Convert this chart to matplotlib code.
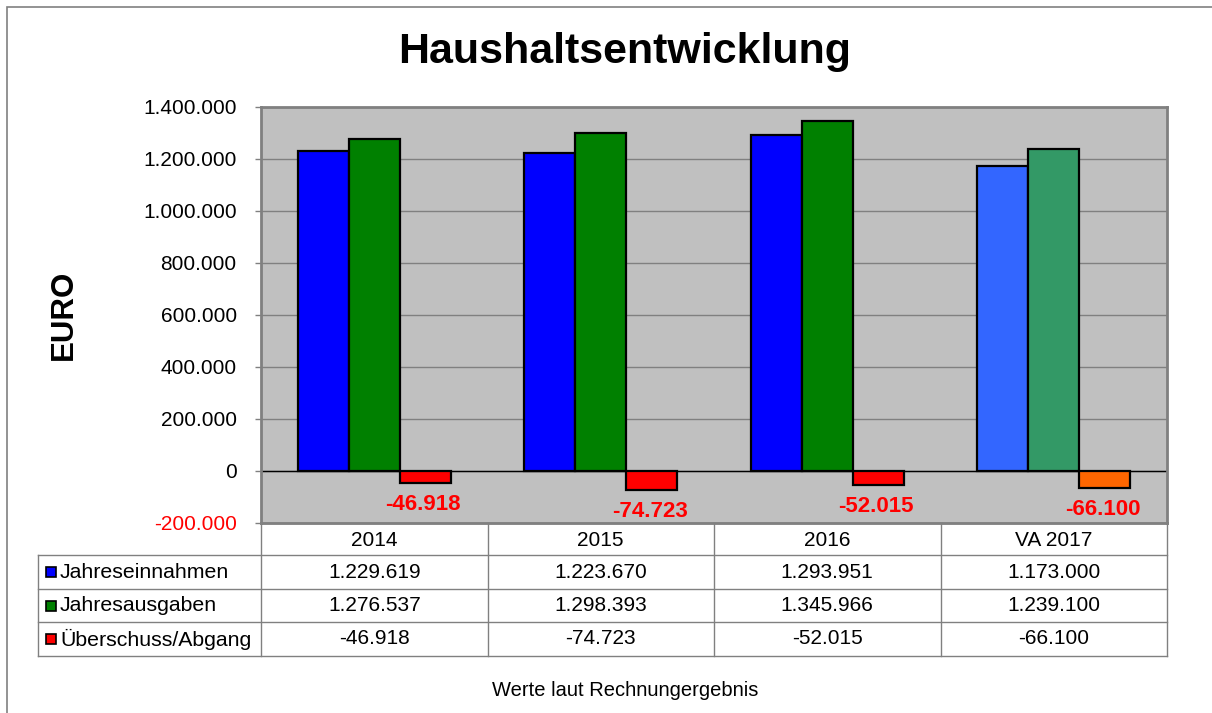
import matplotlib.pyplot as plt
from matplotlib.patches import Rectangle
from matplotlib.lines import Line2D
import numpy as np

plt.rcParams['font.family'] = ['Liberation Sans', 'DejaVu Sans']

# data
categories = ['2014', '2015', '2016', 'VA 2017']
einnahmen = [1229619, 1223670, 1293951, 1173000]
ausgaben = [1276537, 1298393, 1345966, 1239100]
saldo = [-46918, -74723, -52015, -66100]
series_names = ['Jahreseinnahmen', 'Jahresausgaben', 'Überschuss/Abgang']
ytick_vals = [-200000, 0, 200000, 400000, 600000, 800000, 1000000, 1200000, 1400000]

colors_ein = ['#0000FF', '#0000FF', '#0000FF', '#3366FF']
colors_aus = ['#008000', '#008000', '#008000', '#339966']
colors_sal = ['#FF0000', '#FF0000', '#FF0000', '#FF6600']

W, H = 1212, 713


def fx(x):
    return x / W


def fy(y):
    return 1 - y / H


def fmt(v):
    s = f'{abs(v):,}'.replace(',', '.')
    return ('-' if v < 0 else '') + s


fig = plt.figure(figsize=(W / 100, H / 100), dpi=100)

# outer chart frame
fig.patches.append(Rectangle((fx(7), fy(800)), fx(1300), fy(7) - fy(800),
                             transform=fig.transFigure, fill=False,
                             edgecolor='#808080', linewidth=1.2))

L, R, T, B = 261, 1167, 107, 523
ax = fig.add_axes([fx(L), fy(B), fx(R) - fx(L), fy(T) - fy(B)])
ax.set_facecolor('#C0C0C0')

x = np.arange(len(categories))
w = 0.225
ax.bar(x - w, einnahmen, w, color=colors_ein, edgecolor='black', linewidth=1.6, zorder=3)
ax.bar(x, ausgaben, w, color=colors_aus, edgecolor='black', linewidth=1.6, zorder=3)
bars = ax.bar(x + w, saldo, w, color=colors_sal, edgecolor='black', linewidth=1.6, zorder=3)

for b, v in zip(bars, saldo):
    ax.annotate(fmt(v), (b.get_x() + b.get_width() / 2, v), xytext=(-2, -11),
                textcoords='offset pixels', ha='center', va='top',
                color='#FF0000', fontsize=16, fontweight='bold', zorder=4)

ax.set_xlim(-0.5, len(categories) - 0.5)
ax.set_ylim(-200000, 1400000)
ax.set_yticks(ytick_vals)
ax.set_yticklabels([fmt(v) for v in ytick_vals], fontsize=15)
ax.get_yticklabels()[0].set_color('#FF0000')
ax.set_xticks([])
ax.tick_params(axis='y', length=4.5, width=1, color='#808080', pad=13)
ax.yaxis.grid(True, color='#808080', linewidth=1, zorder=1)
ax.axhline(0, color='black', linewidth=1, zorder=2)
for s in ax.spines.values():
    s.set_color('#808080')
    s.set_linewidth(2)

ax.set_ylabel('EURO', fontsize=22.5, fontweight='bold', labelpad=46)

fig.text(fx(625), fy(52), 'Haushaltsentwicklung', ha='center', va='center',
         fontsize=31, fontweight='bold')

# data table below the plot
row_edges = [B, 555, 589, 622, 656]
col_w = (R - L) / len(categories)
tl = dict(color='#808080', linewidth=1, transform=fig.transFigure)
for i, y in enumerate(row_edges):
    x0 = L if i == 0 else 38
    fig.add_artist(Line2D([fx(x0), fx(R)], [fy(y), fy(y)], **tl))
for j in range(len(categories) + 1):
    xc = L + j * col_w
    fig.add_artist(Line2D([fx(xc), fx(xc)], [fy(B), fy(656)], **tl))
fig.add_artist(Line2D([fx(38), fx(38)], [fy(555), fy(656)], **tl))

for j, c in enumerate(categories):
    fig.text(fx(L + (j + 0.5) * col_w), fy(540), c, ha='center', va='center', fontsize=15)

rows = [einnahmen, ausgaben, saldo]
key_colors = ['#0000FF', '#008000', '#FF0000']
for i, (name, vals) in enumerate(zip(series_names, rows)):
    yc = (row_edges[i + 1] + row_edges[i + 2]) / 2
    fig.patches.append(Rectangle((fx(46), fy(yc + 5)), fx(10), fy(yc - 5) - fy(yc + 5),
                                 transform=fig.transFigure, facecolor=key_colors[i],
                                 edgecolor='black', linewidth=1.2))
    fig.text(fx(60), fy(yc), name, ha='left', va='center', fontsize=15.3)
    for j, v in enumerate(vals):
        fig.text(fx(L + (j + 0.5) * col_w), fy(yc), fmt(v), ha='center', va='center', fontsize=15)

fig.text(fx(625), fy(690), 'Werte laut Rechnungergebnis', ha='center', va='center', fontsize=14.5)

fig.savefig('out.png', dpi=100)
